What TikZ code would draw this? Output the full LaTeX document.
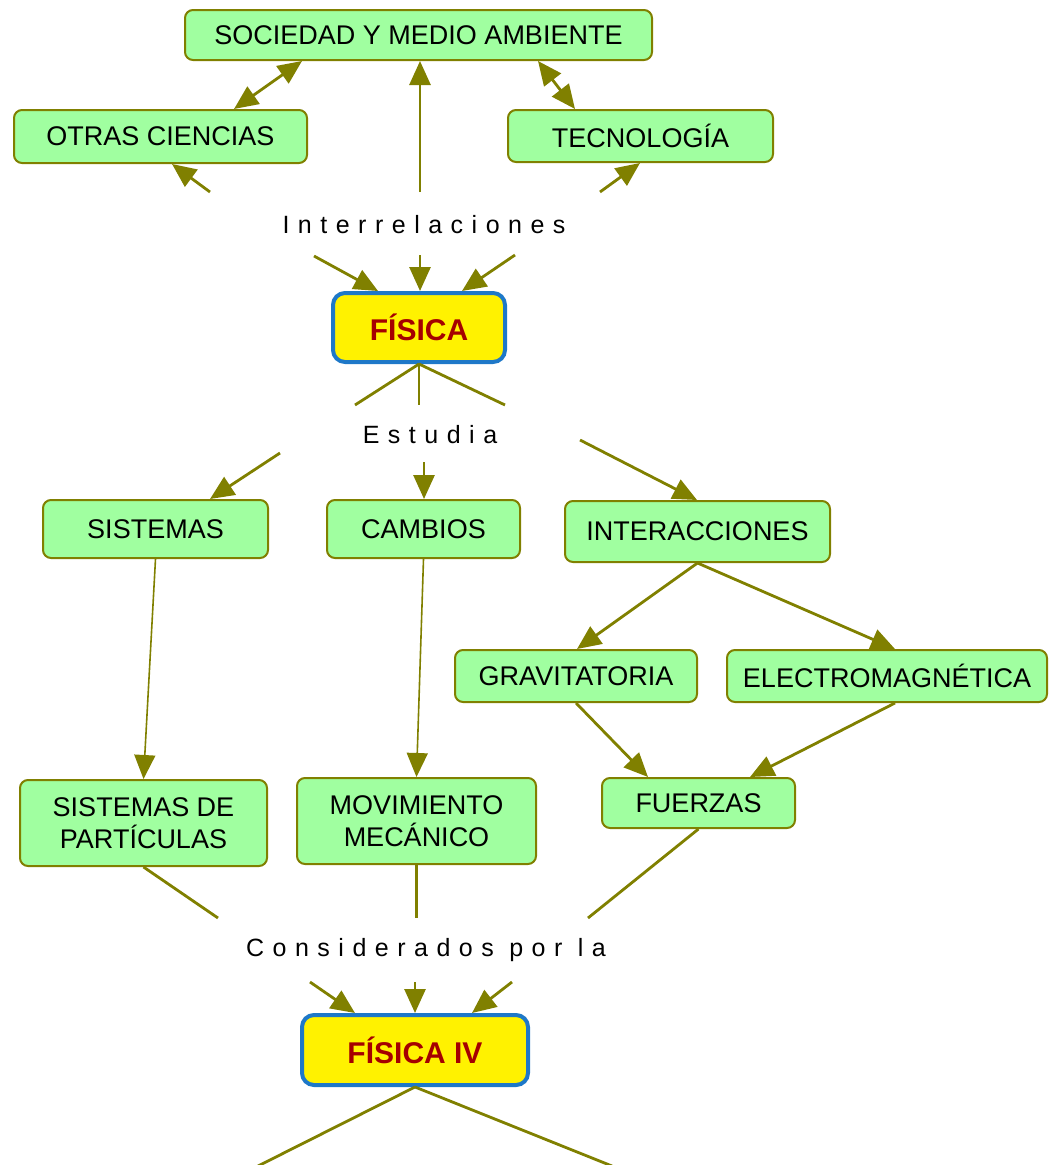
\documentclass[tikz,border=0pt]{standalone}
\usepackage{fontspec}
\setmainfont{Liberation Sans}
\newfontfamily\lblfont[LetterSpace=34]{Liberation Sans}
\usetikzlibrary{arrows.meta}
\definecolor{olv}{RGB}{128,128,0}
\definecolor{cfill}{RGB}{160,255,160}
\definecolor{fblue}{RGB}{30,120,200}
\definecolor{fred}{RGB}{165,0,0}
\begin{document}
\begin{tikzpicture}[x=1pt,y=-1pt,
  concept/.style={draw=olv, line width=2pt, fill=cfill, rounded corners=8pt, inner sep=0pt,
    font=\fontsize{27}{32}\selectfont, align=center},
  mainc/.style={draw=fblue, line width=4pt, fill=yellow, rounded corners=12pt, inner sep=0pt,
    font=\fontsize{30}{34}\selectfont\bfseries, text=fred},
  lbl/.style={inner sep=0pt, font=\lblfont\fontsize{25}{30}\selectfont},
  link/.style={draw=olv, line width=2.8pt},
  arr/.style={link, -{Triangle[length=24pt,width=21pt]}},
  darr/.style={link, {Triangle[length=24pt,width=21pt]}-{Triangle[length=24pt,width=21pt]}},
  thinl/.style={line width=1.6pt}]
\useasboundingbox (0,0) rectangle (1049,1165);

% concepts
\node[concept, minimum width=467pt, minimum height=50pt] (soc) at (418.5,35) {SOCIEDAD Y MEDIO AMBIENTE};
\node[concept, minimum width=293pt, minimum height=53pt] (otras) at (160.5,136.5) {OTRAS CIENCIAS};
\node[concept, minimum width=265pt, minimum height=52pt] (tec) at (640.5,136) {TECNOLOGÍA};
\node[mainc, minimum width=172pt, minimum height=69pt] (fis) at (419,327.5) {FÍSICA};
\node[concept, minimum width=225pt, minimum height=58pt] (sis) at (155.5,529) {SISTEMAS};
\node[concept, minimum width=193pt, minimum height=58pt] (cam) at (423.5,529) {CAMBIOS};
\node[concept, minimum width=265pt, minimum height=61pt] (inter) at (697.5,531.5) {INTERACCIONES};
\node[concept, minimum width=242pt, minimum height=52pt] (grav) at (576,676) {GRAVITATORIA};
\node[concept, minimum width=320pt, minimum height=52pt] (elec) at (887,676) {ELECTROMAGNÉTICA};
\node[concept, minimum width=193pt, minimum height=50pt] (fue) at (698.5,803) {FUERZAS};
\node[concept, minimum width=247pt, minimum height=86pt] (sdp) at (143.5,823) {SISTEMAS DE\\PARTÍCULAS};
\node[concept, minimum width=239pt, minimum height=86pt] (mov) at (416.5,821) {MOVIMIENTO\\MECÁNICO};
\node[mainc, minimum width=226pt, minimum height=70pt] (fis4) at (415,1050) {FÍSICA IV};

% linking phrases
\node[lbl] (lint) at (424,225) {Interrelaciones};
\node[lbl] (lest) at (430,435) {Estudia};
\node[lbl] (lcons) at (426,950) {Considerados por la};

% connector ends at the linking phrases
\coordinate (i1) at (210,192);
\coordinate (i2) at (420,192);
\coordinate (i3) at (600,192);
\coordinate (i4) at (314,256);
\coordinate (i5) at (420,255);
\coordinate (i6) at (515,255);
\coordinate (e1) at (355,405);
\coordinate (e2) at (419,405);
\coordinate (e3) at (505,405);
\coordinate (e4) at (280,453);
\coordinate (e5) at (424,462);
\coordinate (e6) at (580,440);
\coordinate (c1) at (218,918);
\coordinate (c2) at (416.5,918);
\coordinate (c3) at (588,918);
\coordinate (c4) at (310,982);
\coordinate (c5) at (415,982);
\coordinate (c6) at (512,982);
\coordinate (b1) at (258,1166);
\coordinate (b2) at (612,1166);

% top group
\draw[darr] (otras.north -| 234,0) -- (soc.south -| 302,0);
\draw[darr] (soc.south -| 538,0) -- (tec.north -| 575,0);
\draw[arr] (i1) -- (otras.south -| 172,0);
\draw[arr] (i2) -- (soc.south -| 420,0);
\draw[arr] (i3) -- (tec.south -| 640,0);
\draw[arr] (i4) -- (fis.north -| 378,0);
\draw[arr] (i5) -- (fis.north -| 420,0);
\draw[arr] (i6) -- (fis.north -| 462,0);

% Estudia
\draw[link] (fis.south) -- (e1);
\draw[link] (fis.south) -- (e2);
\draw[link] (fis.south) -- (e3);
\draw[arr] (e4) -- (sis.north -| 210,0);
\draw[arr] (e5) -- (cam.north -| 424,0);
\draw[arr] (e6) -- (inter.north -| 697,0);

% middle
\draw[arr,thinl] (sis.south) -- (sdp.north);
\draw[arr,thinl] (cam.south) -- (mov.north);
\draw[arr] (inter.south) -- (grav.north -| 577,0);
\draw[arr] (inter.south) -- (elec.north -| 895,0);
\draw[arr] (grav.south) -- (fue.north -| 648,0);
\draw[arr] (elec.south -| 895,0) -- (fue.north -| 750,0);

% Considerados por la
\draw[link] (sdp.south) -- (c1);
\draw[link] (mov.south) -- (c2);
\draw[link] (fue.south) -- (c3);
\draw[arr] (c4) -- (fis4.north -| 355,0);
\draw[arr] (c5) -- (fis4.north -| 415,0);
\draw[arr] (c6) -- (fis4.north -| 472,0);

% bottom
\draw[link] (fis4.south) -- (b1);
\draw[link] (fis4.south) -- (b2);
\end{tikzpicture}
\end{document}
